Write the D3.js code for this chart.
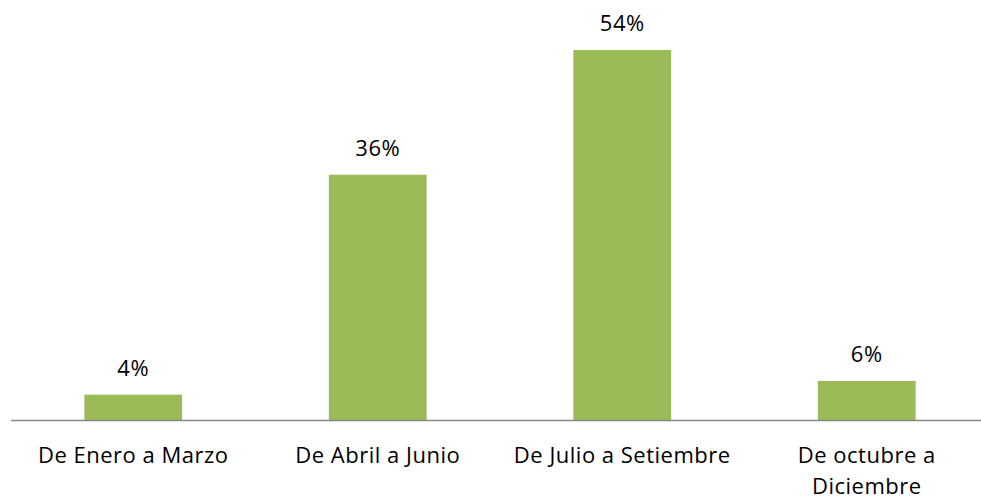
<!DOCTYPE html>
<html lang="es">
<head>
  <meta charset="UTF-8">
  <title>Distribución por trimestre</title>
  <script src="https://d3js.org/d3.v7.min.js"></script>
  <style>
    body { margin: 0; background: #fff; font-family: 'Open Sans', sans-serif; }
    svg { display: block; }
    .cat text, .val { font-size: 22px; letter-spacing: 0.5px; fill: #000; }
  </style>
</head>
<body>
  <svg id="chart" width="981" height="501"></svg>
  <script>
    const categories = ["De Enero a Marzo", "De Abril a Junio", "De Julio a Setiembre", "De octubre a Diciembre"];
    const values = [3.7, 35.8, 54.0, 5.7];

    const svg = d3.select("#chart");
    const baseline = 420;

    const x = d3.scaleBand()
      .domain(categories)
      .range([11, 989])
      .paddingInner(0.6)
      .paddingOuter(0.3);

    const y = d3.scaleLinear()
      .domain([0, 54])
      .range([baseline, 50]);

    svg.selectAll("rect.bar")
      .data(values)
      .enter().append("rect")
      .attr("class", "bar")
      .attr("x", (d, i) => x(categories[i]))
      .attr("width", x.bandwidth())
      .attr("y", d => y(d))
      .attr("height", d => baseline - y(d))
      .attr("fill", "#9bbb59");

    // axis line
    svg.append("line")
      .attr("x1", 11).attr("x2", 981)
      .attr("y1", baseline + 0.5).attr("y2", baseline + 0.5)
      .attr("stroke", "#898989")
      .attr("stroke-width", 1.5);

    // value labels
    svg.selectAll("text.val")
      .data(values)
      .enter().append("text")
      .attr("class", "val")
      .attr("x", (d, i) => x(categories[i]) + x.bandwidth() / 2)
      .attr("y", d => y(d) - 19)
      .attr("text-anchor", "middle")
      .text(d => d3.format(".0f")(d) + "%");

    // category labels, wrapped like the original
    const lines = {
      "De octubre a Diciembre": ["De octubre a", "Diciembre"]
    };
    const cat = svg.append("g").attr("class", "cat");
    categories.forEach(c => {
      const t = cat.append("text")
        .attr("x", x(c) + x.bandwidth() / 2)
        .attr("y", 463)
        .attr("text-anchor", "middle");
      (lines[c] || [c]).forEach((l, j) => {
        t.append("tspan")
          .attr("x", x(c) + x.bandwidth() / 2)
          .attr("dy", j === 0 ? 0 : 31)
          .text(l);
      });
    });
  </script>
</body>
</html>
